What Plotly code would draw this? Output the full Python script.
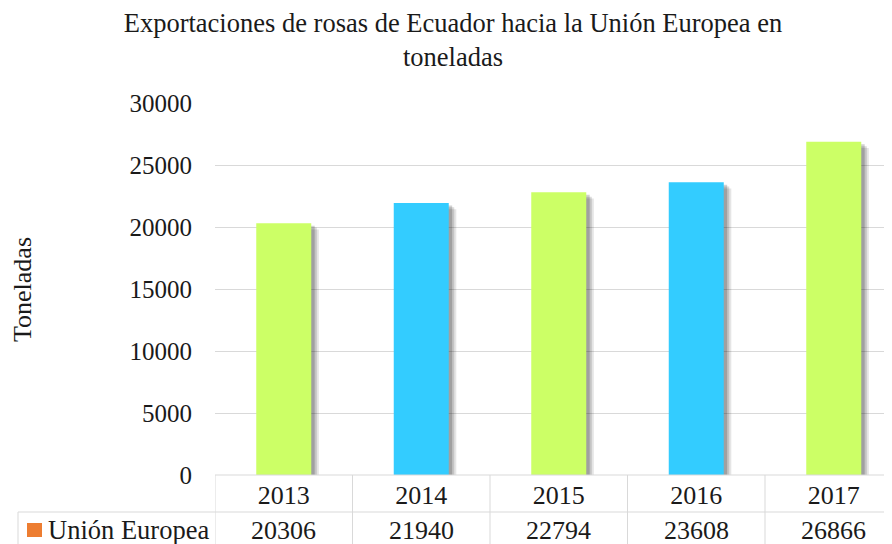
import plotly.graph_objects as go

years = ["2013", "2014", "2015", "2016", "2017"]
values = [20306, 21940, 22794, 23608, 26866]
bar_colors = ["#CCFF66", "#33CCFF", "#CCFF66", "#33CCFF", "#CCFF66"]
series_name = "Unión Europea"
y_ticks = [0, 5000, 10000, 15000, 20000, 25000, 30000]
title_text = "Exportaciones de rosas de Ecuador hacia la Unión Europea en<br>toneladas"
y_title = "Toneladas"

# the page body adds an 8px margin; size the figure so it fills the window
OFF = 8
SW, SH = 892, 544            # screen size
W, H = SW - OFF, SH - OFF     # figure size
# plot area in screen pixels
PL, PT, PB = 215, 103, 475
L, T, R = PL - OFF, PT - OFF, 0
B = SH - PB
plot_w = W - L - R
plot_h = H - T - B
cat_px = 137.5
x_max = -0.5 + plot_w / cat_px

FONT = "Liberation Serif, Times New Roman, serif"
TXT = "#1a1a1a"
GRID = "#d9d9d9"

def px_to_paper_x(px):
    return (px - PL) / plot_w

def px_to_paper_y(py):
    return (PB - py) / plot_h

fig = go.Figure()
# soft drop shadow layers
for dx, dy, a in [(0.055, 500, 0.10), (0.04, 350, 0.14), (0.025, 200, 0.18)]:
    fig.add_trace(go.Bar(
        x=list(range(len(years))), y=[v - dy for v in values], base=0,
        width=0.4, offset=-0.2 + dx,
        marker=dict(color=f"rgba(0,0,0,{a})", line=dict(width=0)),
        hoverinfo="skip", showlegend=False,
    ))
fig.add_trace(go.Bar(
    x=list(range(len(years))), y=values, width=0.4, offset=-0.2,
    marker=dict(color=bar_colors, line=dict(width=0)),
    name=series_name, showlegend=False,
))

fig.update_layout(
    width=W, height=H, barmode="overlay",
    margin=dict(l=L, r=R, t=T, b=B, pad=0),
    paper_bgcolor="white", plot_bgcolor="white",
    font=dict(family=FONT, color=TXT, size=26),
    title=dict(text=title_text, x=(453 - OFF) / W, xanchor="center", xref="container",
               y=1 - 24 / H, yanchor="top", yref="container",
               font=dict(family=FONT, size=26.5, color=TXT)),
    xaxis=dict(range=[-0.5, x_max], tickmode="array",
               tickvals=list(range(len(years))), ticktext=years,
               showgrid=False, zeroline=False, showline=False,
               ticks="", ticklabelstandoff=2,
               tickfont=dict(family=FONT, size=26, color=TXT)),
    yaxis=dict(range=[0, 30000], tickmode="array", tickvals=y_ticks,
               ticktext=[str(t) for t in y_ticks],
               showgrid=True, gridcolor=GRID, gridwidth=1,
               zeroline=False, showline=False, ticks="",
               ticklabelstandoff=22,
               tickfont=dict(family=FONT, size=25, color=TXT)),
    showlegend=False,
)

shapes = []
shapes.append(dict(type="line", xref="paper", yref="paper", x0=0, x1=1, y0=0, y1=0,
                   line=dict(color=GRID, width=1)))
shapes.append(dict(type="line", xref="paper", yref="paper",
                   x0=px_to_paper_x(18), x1=1, y0=px_to_paper_y(512), y1=px_to_paper_y(512),
                   line=dict(color=GRID, width=1)))
shapes.append(dict(type="line", xref="paper", yref="paper",
                   x0=px_to_paper_x(18), x1=px_to_paper_x(18),
                   y0=px_to_paper_y(512), y1=px_to_paper_y(SH + 2),
                   line=dict(color=GRID, width=1)))
for i in range(len(years) + 1):
    shapes.append(dict(type="line", xref="x", yref="paper", x0=i - 0.5, x1=i - 0.5,
                       y0=0, y1=px_to_paper_y(SH + 2), line=dict(color=GRID, width=1)))
shapes.append(dict(type="rect", xref="paper", yref="paper",
                   x0=px_to_paper_x(27), x1=px_to_paper_x(42),
                   y0=px_to_paper_y(537), y1=px_to_paper_y(523),
                   fillcolor="#ED7D31", line=dict(width=0)))
fig.update_layout(shapes=shapes)

annotations = []
for i, v in enumerate(values):
    annotations.append(dict(x=i, y=px_to_paper_y(530), xref="x", yref="paper",
                            text=str(v), showarrow=False, xanchor="center", yanchor="middle",
                            font=dict(family=FONT, size=26, color=TXT)))
annotations.append(dict(x=px_to_paper_x(46), y=px_to_paper_y(530), xref="paper", yref="paper",
                        text=series_name, showarrow=False, xanchor="left", yanchor="middle",
                        font=dict(family=FONT, size=26.5, color=TXT)))
annotations.append(dict(x=px_to_paper_x(22), y=px_to_paper_y(290), xref="paper", yref="paper",
                        text=y_title, textangle=-90, showarrow=False,
                        xanchor="center", yanchor="middle",
                        font=dict(family=FONT, size=26, color=TXT)))
fig.update_layout(annotations=annotations)

fig.write_html("out.html")
